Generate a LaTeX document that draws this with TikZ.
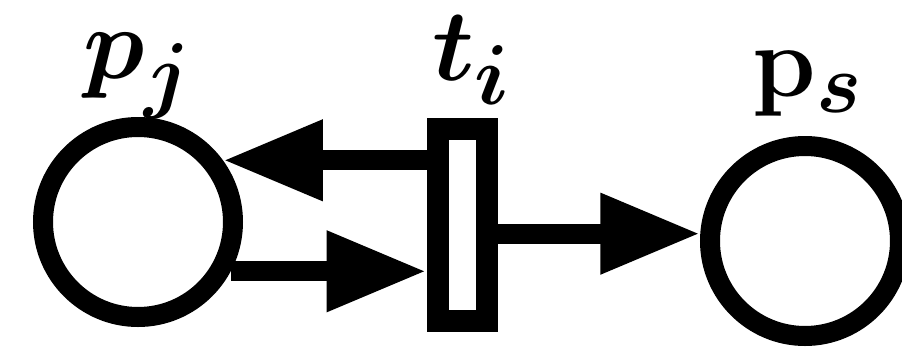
\documentclass[tikz,border=0pt]{standalone}
\usepackage{amsmath,bm}
\usetikzlibrary{arrows.meta}
\tikzset{
  place/.style={circle,draw=black,line width=10pt,minimum size=95pt,inner sep=0pt,fill=white},
  trans/.style={rectangle,draw=black,line width=11pt,minimum width=24.5pt,minimum height=96pt,inner sep=0pt,fill=white},
  arc/.style={line width=10pt,-{Triangle[length=50pt,width=38pt]}},
  lbl/.style={inner sep=0pt,font=\Huge,scale=2.05,transform shape}
}
\begin{document}
\begin{tikzpicture}[x=0.5pt,y=-0.5pt]
\useasboundingbox (0,0) rectangle (902,349);
\node[place] (pj) at (138,222) {};
\node[place] (ps) at (805,241) {};
\node[trans] (ti) at (462,225) {};
\node[lbl] (lpj) at (138,76) {$\bm{p_j}$};
\node[lbl] (lti) at (472,60) {$\bm{t_i}$};
\node[lbl] (lps) at (808,84) {$\mathbf{p}_{\bm{s}}$};
\draw[arc] (ti.west |- pj.36) -- (pj.36);
\draw[arc] (pj.-28) -- (pj.-28 -| ti.west);
\draw[arc] (ti.east |- ps.176) -- (ps.176);
\end{tikzpicture}
\end{document}
